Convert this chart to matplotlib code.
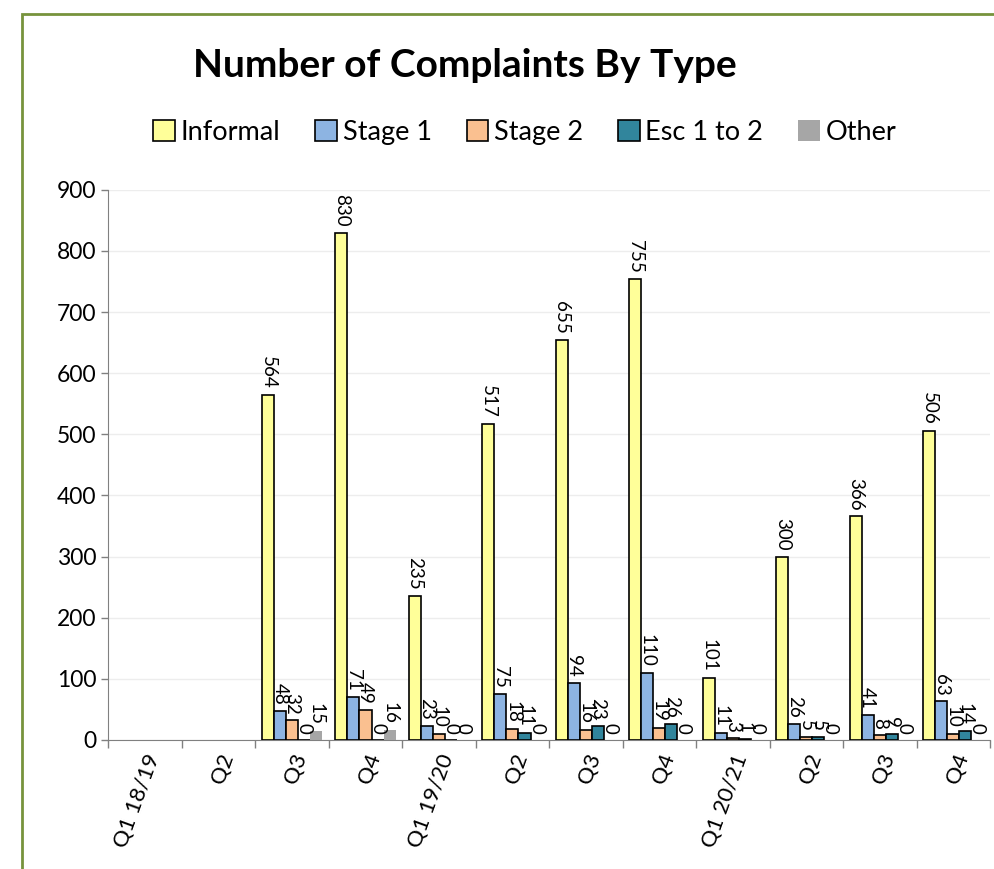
import matplotlib.pyplot as plt
import matplotlib.patches as patches
import numpy as np

plt.rcParams['font.family'] = ['Lato', 'DejaVu Sans']

quarters = ['Q1 18/19', 'Q2', 'Q3', 'Q4', 'Q1 19/20', 'Q2', 'Q3', 'Q4',
            'Q1 20/21', 'Q2', 'Q3', 'Q4']
series = ['Informal', 'Stage 1', 'Stage 2', 'Esc 1 to 2', 'Other']

# None = no data for that quarter
informal = [None, None, 564, 830, 235, 517, 655, 755, 101, 300, 366, 506]
stage1 = [None, None, 48, 71, 23, 75, 94, 110, 11, 26, 41, 63]
stage2 = [None, None, 32, 49, 10, 18, 16, 19, 3, 5, 8, 10]
esc = [None, None, 0, 0, 0, 11, 23, 26, 1, 5, 9, 14]
other = [None, None, 15, 16, 0, 0, 0, 0, 0, 0, 0, 0]

colors = ['#FFFF99', '#8DB4E2', '#FAC090', '#31859C', '#A6A6A6']
edges = ['black', 'black', 'black', 'black', 'none']

fig = plt.figure(figsize=(9.94, 8.69), dpi=100)
ax = fig.add_axes([0.109, 0.1485, 0.887, 0.633])

x = np.arange(len(quarters))
w = 0.164
data = [informal, stage1, stage2, esc, other]
for i, vals in enumerate(data):
    xs = [xi + (i - 2) * w for xi, v in zip(x, vals) if v is not None]
    vs = [v for v in vals if v is not None]
    bars = ax.bar(xs, vs, w, color=colors[i], edgecolor=edges[i],
                  linewidth=1.2, label=series[i], zorder=3)
    for b, v in zip(bars, vs):
        ax.text(b.get_x() + b.get_width() / 2, v + 10, str(v), rotation=-90,
                ha='center', va='bottom', fontsize=13.5, zorder=4)

ax.set_xlim(-0.5, len(quarters) - 0.5)
ax.set_ylim(0, 900)
ax.set_yticks(range(0, 901, 100))
ax.tick_params(axis='y', labelsize=16.5, length=5, width=1, color='#808080')
ax.yaxis.grid(True, color='#EDEDED', linewidth=1, zorder=0)

ax.set_xticks(x)
ax.set_xticklabels(quarters, rotation=70, ha='right', rotation_mode='anchor',
                   fontsize=16)
ax.tick_params(axis='x', length=0, pad=8)
ax.set_xticks(np.arange(-0.5, len(quarters), 1), minor=True)
ax.tick_params(axis='x', which='minor', length=6, width=1, color='#808080')

for s in ['top', 'right']:
    ax.spines[s].set_visible(False)
ax.spines['left'].set_color('#808080')
ax.spines['bottom'].set_color('#808080')

fig.text(0.468, 0.925, 'Number of Complaints By Type', ha='center',
         va='center', fontsize=28, fontweight='bold')
fig.legend(loc='center', bbox_to_anchor=(0.528, 0.848), ncol=5,
           frameon=False, fontsize=19.5, handlelength=0.8, handleheight=0.8,
           handletextpad=0.2, columnspacing=1.3)

# green frame around the chart
fig.patches.append(patches.Rectangle((0.022, -0.1), 1.2, 1.084,
                                     transform=fig.transFigure, fill=False,
                                     edgecolor='#77933C', linewidth=2))

plt.savefig('out.png', dpi=100)
